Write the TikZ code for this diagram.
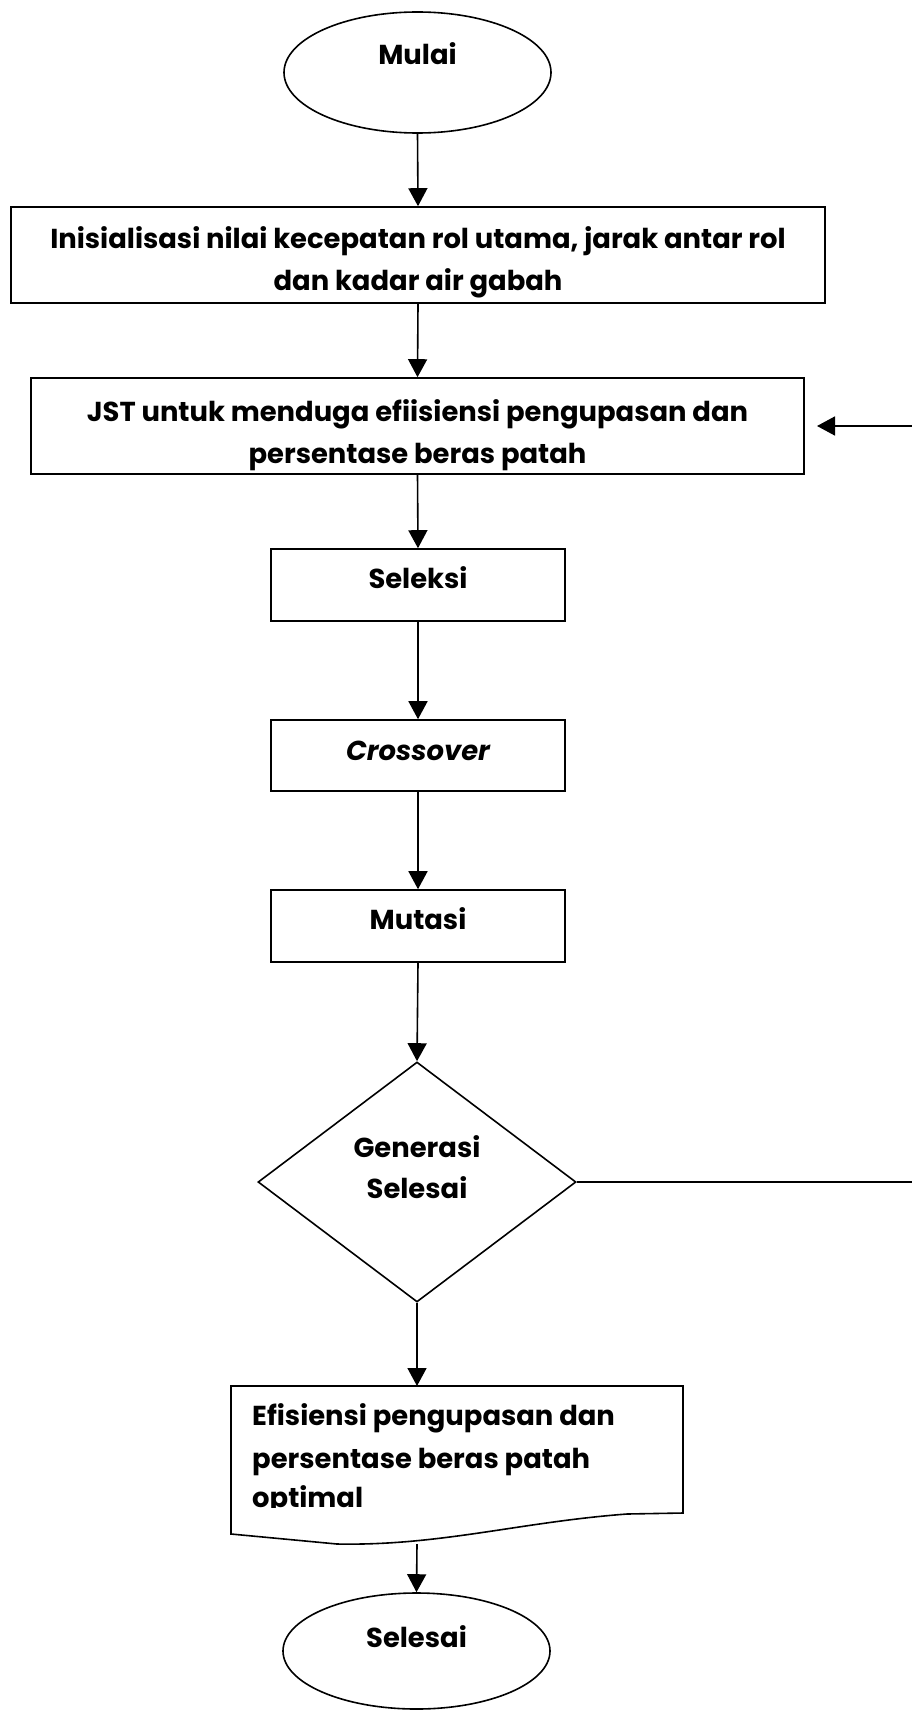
\documentclass[tikz,border=0pt]{standalone}
\usepackage{fontspec}
\setmainfont{Poppins}
\usetikzlibrary{shapes.geometric,arrows.meta}
\begin{document}
\begin{tikzpicture}[x=1pt,y=-1pt,
  every node/.style={font=\fontsize{27.4}{32}\selectfont\bfseries},
  ln/.style={line width=1.6pt},
  arr/.style={ln,-{Triangle[length=18pt,width=19pt]}},
  boxs/.style={draw,ln,rectangle,inner sep=0pt},
  term/.style={draw,ln,ellipse,inner sep=0pt},
  txt/.style={anchor=base,inner sep=0pt}]
\useasboundingbox (0,0) rectangle (912,1712);
% shapes
\node[term,minimum width=267pt,minimum height=121pt] (mulai) at (417.5,72.5) {};
\node[boxs,minimum width=814pt,minimum height=96pt] (init) at (418,255) {};
\node[boxs,minimum width=773pt,minimum height=96pt] (jst) at (417.5,426) {};
\node[boxs,minimum width=294pt,minimum height=72pt] (sel) at (418,585) {};
\node[boxs,minimum width=294pt,minimum height=71pt] (cross) at (418,755.5) {};
\node[boxs,minimum width=294pt,minimum height=72pt] (mut) at (418,926) {};
\node[draw,ln,diamond,minimum width=318pt,minimum height=240pt,inner sep=0pt] (gen) at (417,1182) {};
\node[term,minimum width=267pt,minimum height=116pt] (end) at (416.5,1651) {};
% document shape
\draw[ln] (231,1386) -- (683,1386) -- (683,1513) -- (627,1514)
  .. controls (520,1522) and (440,1546) .. (337,1544) -- (231,1534) -- cycle;
\coordinate (doctop) at (417,1386);
\coordinate (docbot) at (417,1544);
% texts
\node[txt] (tmulai) at (417.5,65) {Mulai};
\node[txt] (tinit1) at (418,248) {Inisialisasi nilai kecepatan rol utama, jarak antar rol};
\node[txt] (tinit2) at (418,290) {dan kadar air gabah};
\node[txt] (tjst1) at (417.5,421) {JST untuk menduga efiisiensi pengupasan dan};
\node[txt] (tjst2) at (417.5,463) {persentase beras patah};
\node[txt] (tsel) at (418,588) {Seleksi};
\node[txt] (tcross) at (418,760) {\itshape Crossover};
\node[txt] (tmut) at (418,929) {Mutasi};
\node[txt] (tgen1) at (417,1157) {Generasi};
\node[txt] (tgen2) at (417,1198) {Selesai};
\begin{scope}
\clip (231,1386) rectangle (683,1507);
\node[txt,anchor=base west] (tdoc1) at (252,1425) {Efisiensi pengupasan dan};
\node[txt,anchor=base west] (tdoc2) at (252,1468) {persentase beras patah};
\node[txt,anchor=base west] (tdoc3) at (252,1507) {optimal};
\end{scope}
\node[txt] (tend) at (416.5,1647) {Selesai};
% connectors
\draw[arr] (mulai.south) -- (init.north);
\draw[arr] (init.south) -- (jst.north);
\draw[arr] (jst.south) -- (sel.north);
\draw[arr] (sel.south) -- (cross.north);
\draw[arr] (cross.south) -- (mut.north);
\draw[arr] (mut.south) -- (gen.north);
\draw[arr] (gen.south) -- (doctop);
\draw[arr] (docbot) -- (end.north);
\coordinate (loopa) at (916,1182);
\coordinate (loopb) at (916,426);
\coordinate (loopend) at (817,426);
\draw[arr] (gen.east) -- (loopa) -- (loopb) -- (loopend);
\end{tikzpicture}
\end{document}
